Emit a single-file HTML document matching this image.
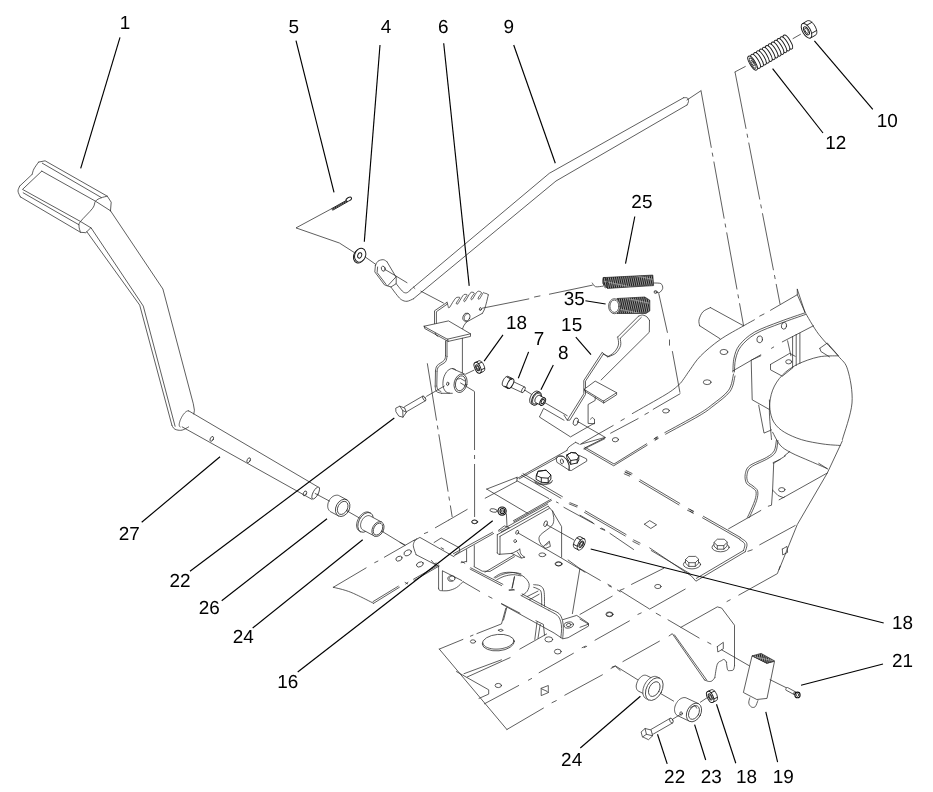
<!DOCTYPE html>
<html><head><meta charset="utf-8"><title>Parts diagram</title>
<style>
html,body{margin:0;padding:0;background:#fff}
svg{display:block}
.t{fill:none;stroke:#2a2a2a;stroke-width:0.75;stroke-linecap:round;stroke-linejoin:round}
.w{fill:#fff}
.b{stroke-width:0.95;stroke:#1a1a1a}
.k{fill:none;stroke:#111;stroke-width:1.1;stroke-linecap:round;stroke-linejoin:round}
.l{fill:none;stroke:#000;stroke-width:1.15;stroke-linecap:butt}
.d{fill:none;stroke:#2a2a2a;stroke-width:0.75;stroke-dasharray:58 5 4 5}
.g{fill:url(#coil);stroke:#222;stroke-width:0.7}
text{text-rendering:geometricPrecision;font-family:"Liberation Sans",Arial,Helvetica,sans-serif;font-size:18.9px;fill:#000}
</style></head><body>
<svg width="933" height="792" viewBox="0 0 933 792">
<rect width="933" height="792" fill="#fff"/>
<g>
<path class="t" d="M38.6 162.1 L45.1 160.8 L107.3 196.2 L111.2 202.2 L110.5 210.8"/>
<path class="t" d="M42.3 163.2 L101.3 197.5"/>
<path class="t" d="M38.6 162.1 C37.8 163.2 35 166.9 33.9 169 C32.8 171 32.5 173.4 32.2 174.3"/>
<path class="t" d="M32.2 174.3 L19.7 186.1"/>
<path class="t" d="M19.7 186.1 C19.5 187 17.9 189.3 18 191.1 C18.1 192.9 20 195.9 20.4 196.9"/>
<path class="t" d="M20.4 196.9 L80.5 232.3 L85.8 232.7 L90.6 228"/>
<path class="t" d="M41.8 171.1 L95.5 201.2 L110.5 210.8"/>
<path class="t" d="M41.8 171.1 L22.5 189.4 L79.8 221.1"/>
<path class="t" d="M23.2 192.8 L79 224.8"/>
<path class="t" d="M107.3 196.2 C106.2 196.5 102.8 197.1 100.9 197.9 C98.9 198.8 96.9 199.4 95.5 201.2 C94.1 202.9 95.2 204.8 92.7 208.2 C90.2 211.6 82.8 218.5 80.5 221.5 C78.2 224.5 79 224.5 79 226.3 C79 228.1 80.2 231.3 80.5 232.3"/>
<path class="t" d="M80.5 221.5 L91.2 228"/>
<path class="t" d="M110.5 210.8 L162.9 289 L193.3 403.8 L194.4 410.2 L193.8 414"/>
<path class="t" d="M86.9 231.8 L139.7 305.1 L171.9 425.2"/>
<path class="t" d="M91.2 228 L143.3 306.1 L175.1 426.3"/>
<path class="t" d="M171.9 425.2 C172.2 425.7 172.8 427.4 173.6 428.2 C174.4 429 175.4 429.6 176.8 429.9 C178.3 430.2 180.2 430.6 182.2 430.1 C184.2 429.6 187.6 427.4 188.6 426.9"/>
<path class="t" d="M188.6 410.8 L317.4 486.6"/>
<path class="t" d="M182.2 426.9 L312 499.4"/>
<path class="t" d="M180.1 426.9 L179.8 426.7 L179.5 426.3 L179.3 425.7 L179.2 425.1 L179.2 424.4 L179.3 423.5 L179.5 422.6 L179.8 421.6 L180.1 420.6 L180.5 419.6 L181 418.5 L181.5 417.5 L182.1 416.4 L182.7 415.5 L183.3 414.5 L184 413.7 L184.7 412.9 L185.3 412.3 L186 411.7 L186.6 411.3 L187.2 411 L187.7 410.9 L188.2 410.9 L188.6 411"/>
<ellipse class="t" cx="315.7" cy="493" rx="2.6" ry="6.7" transform="rotate(28 315.7 493)"/>
<ellipse class="t" cx="211.8" cy="438.9" rx="1.5" ry="2.6" transform="rotate(28 211.8 438.9)"/>
<ellipse class="t" cx="248.7" cy="460.2" rx="1.5" ry="2.6" transform="rotate(28 248.7 460.2)"/>
<ellipse class="t" cx="304.9" cy="493.4" rx="1.5" ry="2.6" transform="rotate(28 304.9 493.4)"/>
<path class="t" d="M315.2 493.5 L329.5 501.1"/>
<path class="t" d="M338.5 515.9 L330.7 511.8 L330 511.3 L329.4 510.7 L328.8 510 L328.4 509.2 L328 508.3 L327.8 507.3 L327.7 506.2 L327.8 505.1 L327.9 504 L328.2 502.8 L328.6 501.7 L329.1 500.7 L329.7 499.6 L330.4 498.7 L331.2 497.8 L332 497.1 L332.9 496.4 L333.9 495.9 L334.8 495.5 L335.8 495.3 L336.7 495.2 L337.6 495.2 L338.5 495.4 L339.3 495.8 L347 499.9"/>
<ellipse class="t" cx="342.7" cy="507.9" rx="6.7" ry="9.1" transform="rotate(28 342.7 507.9)"/>
<ellipse class="t" cx="342.7" cy="507.9" rx="4.8" ry="7" transform="rotate(28 342.7 507.9)"/>
<path class="t" d="M347 510.9 L359.8 518.2"/>
<path class="t" d="M360.6 531.8 L359.4 531.2 L358.7 530.7 L358 530 L357.5 529.2 L357.1 528.3 L356.8 527.3 L356.6 526.2 L356.6 525 L356.7 523.7 L356.9 522.4 L357.3 521.2 L357.8 519.9 L358.4 518.6 L359.1 517.4 L359.9 516.3 L360.7 515.3 L361.7 514.4 L362.6 513.6 L363.7 512.9 L364.7 512.4 L365.7 512.1 L366.7 511.9 L367.6 511.9 L368.5 512.1 L369.4 512.5 L370.6 513.1"/>
<ellipse class="t" cx="365.6" cy="522.4" rx="6.8" ry="10.6" transform="rotate(28 365.6 522.4)"/>
<path class="t w" d="M374.3 536 L363 530 L362.4 529.6 L361.8 529.1 L361.4 528.5 L361.1 527.8 L360.8 527 L360.6 526.1 L360.6 525.2 L360.6 524.3 L360.8 523.3 L361.1 522.4 L361.4 521.4 L361.9 520.5 L362.4 519.6 L363 518.8 L363.6 518 L364.3 517.3 L365.1 516.8 L365.9 516.3 L366.7 516 L367.5 515.7 L368.2 515.6 L369 515.6 L369.7 515.8 L370.4 516.1 L381.7 522.1"/>
<ellipse class="t w" cx="378" cy="529.1" rx="5.5" ry="7.9" transform="rotate(28 378 529.1)"/>
<ellipse class="t" cx="378" cy="529.1" rx="4.2" ry="6.4" transform="rotate(28 378 529.1)"/>
<path class="t" d="M383.3 532.1 L404.5 545"/>
<path class="t b" d="M331.8 208.6 L346.2 200.5"/>
<path class="t b" d="M332.9 210.1 L347.5 201.8"/>
<path class="t b" d="M332.3 209.3 L346.9 201.1"/>
<ellipse class="t w b" cx="348.8" cy="199.2" rx="3" ry="1.7" transform="rotate(-30 348.8 199.2)"/>
<path class="t" d="M331.8 208.6 L296 227.9 L339.4 243 L354.4 252.6"/>
<ellipse class="t w b" cx="359.1" cy="256.1" rx="5.4" ry="7.1" transform="rotate(20 359.1 256.1)"/>
<ellipse class="t w b" cx="360.2" cy="255.2" rx="5.4" ry="7.1" transform="rotate(20 360.2 255.2)"/>
<ellipse class="t w b" cx="359.7" cy="255.4" rx="1.9" ry="2.8" transform="rotate(20 359.7 255.4)"/>
<path class="t" d="M365.1 256.9 L375.8 264.4"/>
<path class="t" d="M375.4 265.5 C375.8 264.8 376.7 262.2 378 261.2 C379.3 260.2 381.8 259.6 383.3 259.7 C384.8 259.8 386.4 261.5 387 261.8"/>
<path class="t" d="M387 261.8 L396.2 277.3 L396.2 283.7 L390.9 287 L384.4 284.8 L374.8 271.9 L375.4 265.5"/>
<path class="t" d="M377.6 267 L377.1 272.6 L386.1 284.4"/>
<ellipse class="t" cx="383.3" cy="268.7" rx="1.9" ry="2.6" transform="rotate(-20 383.3 268.7)"/>
<path class="t" d="M384.4 269.1 L407 282.7"/>
<path class="t" d="M387.6 285.9 L396.2 276.7"/>
<path class="t" d="M390.9 287 C391.9 288.4 395.5 293.4 397.3 295.5 C399.1 297.7 400 298.9 401.6 299.8 C403.2 300.8 405 301.5 407 301.3 C408.9 301.2 412.3 299.2 413.4 298.8"/>
<path class="t" d="M396.2 283.7 C396.9 284.6 399.3 287.7 400.5 289.1 C401.8 290.5 402.7 291.7 403.7 292.3 C404.8 292.9 405.9 293.1 407 292.7 C408 292.4 409.6 290.6 410.2 290.2"/>
<path class="t" d="M420.9 291.2 L443.4 303"/>
<path class="t" d="M413.4 287 L414.9 288.5"/>
<path class="t" d="M410 290.2 L549.3 173.3 L683.7 97.7"/>
<path class="t" d="M413.4 298.8 L556 181 L687 105"/>
<path class="t" d="M683.7 97.7 C684.3 97.8 686.7 97.4 687.5 98 C688.3 98.6 688.6 100.3 688.5 101.5 C688.4 102.7 687.2 104.4 687 105"/>
<path class="t" d="M687 100 L701 90.7"/>
<path class="d" d="M701 90.7 L743.6 325.8"/>
<path class="t" d="M745.3 66.5 L735 71.9"/>
<path class="d" d="M735 71.9 L780.1 304.3"/>
<path class="t" d="M434.5 323.6 L434.5 310.8 L447 302.3"/>
<path class="t" d="M436.4 323.3 L436.4 311.7 L447.6 303.9"/>
<path class="t" d="M447 302.3 C447.1 302.6 447.4 303.6 447.6 304.3 C447.8 305 448 306 448.2 306.5 C448.3 307.1 448.2 307.5 448.5 307.7 C448.7 307.8 449.1 308 449.6 307.4 C450.1 306.8 450.9 305.2 451.6 304.2 C452.2 303.1 452.7 302.1 453.5 301.1 C454.3 300 455.2 298.3 456.2 297.7 C457.3 297.1 459.5 297.1 459.8 297.5 C460.1 297.9 458.5 299.5 458 300.4 C457.4 301.3 456.7 302.3 456.4 303 C456.2 303.6 456.4 303.9 456.7 304.1 C456.9 304.2 457.3 304.4 457.8 303.9 C458.3 303.3 459.1 301.7 459.8 300.6 C460.4 299.5 461 298.5 461.7 297.5 C462.4 296.5 463 295.1 463.9 294.6 C464.8 294.2 466.9 294.3 467.1 294.8 C467.3 295.4 465.9 296.8 465.3 297.7 C464.7 298.6 464 299.7 463.8 300.3 C463.6 300.9 463.8 301.3 464 301.4 C464.2 301.6 464.6 301.8 465.2 301.2 C465.7 300.6 466.5 299 467.1 298 C467.8 296.9 468.3 295.8 469 294.8 C469.7 293.9 470.3 292.7 471.2 292.3 C472.1 292 474.1 292.4 474.3 293 C474.5 293.5 473.1 294.9 472.5 295.8 C471.9 296.7 471.2 297.8 471 298.4 C470.8 299 471 299.4 471.2 299.5 C471.4 299.7 471.8 299.9 472.3 299.3 C472.9 298.7 473.7 297.1 474.3 296.1 C475 295 475.5 293.8 476.2 293 C476.9 292.1 477.5 291.3 478.4 291.2 C479.3 291.1 481.3 291.9 481.5 292.6 C481.7 293.3 480.3 294.5 479.7 295.5 C479.1 296.4 478.4 297.4 478.2 298 C478 298.6 478.2 299 478.4 299.2 C478.6 299.3 479 299.5 479.5 298.9 C480.1 298.4 480.9 296.7 481.5 295.7 C482.2 294.6 482.9 293 483.4 292.6 C483.9 292.2 484.1 293 484.7 293.2 C485.3 293.4 486.2 293.4 486.8 293.7 C487.4 294 488.1 294.7 488.3 294.8"/>
<path class="t" d="M488.3 294.8 C488 296.4 486.8 301.4 486.1 303.9 C485.4 306.5 484.8 308.4 484.2 310 C483.5 311.6 482.6 312.8 482.3 313.4"/>
<path class="t" d="M482.3 313.4 L466.4 322.1"/>
<path class="t" d="M466.4 322.1 C465.9 322.8 464.3 324.8 463.7 325.9 C463.1 327 462.8 328.4 462.6 328.9"/>
<ellipse class="t" cx="480.4" cy="309.1" rx="1" ry="1.5" transform="rotate(15 480.4 309.1)"/>
<ellipse class="t w" cx="466.4" cy="317.2" rx="3.4" ry="4.2" transform="rotate(20 466.4 317.2)"/>
<path class="t" d="M467 321.1 L466.6 321.1 L466.2 321 L465.8 320.9 L465.5 320.7 L465.1 320.4 L464.9 320.1 L464.6 319.8 L464.5 319.3 L464.4 318.9 L464.3 318.4 L464.3 317.9 L464.3 317.4 L464.4 316.9 L464.6 316.4 L464.8 315.9 L465.1 315.5 L465.4 315 L465.7 314.7 L466.1 314.4 L466.4 314.1 L466.8 313.9 L467.3 313.8 L467.7 313.7 L468.1 313.7"/>
<path class="t" d="M482.3 308.2 L528.8 298.9"/>
<path class="t" d="M534.5 297 L540 295.9"/>
<path class="t" d="M549.4 294.2 L592.3 285.2"/>
<path class="t w" d="M424.2 326.2 L448.5 320.9 L470.5 333.8 L447.7 339.1Z"/>
<path class="t" d="M424.2 326.2 L424.7 328.5 L448.2 341.4 L470.5 336.4 L470.5 333.8"/>
<path class="t" d="M447.7 339.1 L448.2 341.4"/>
<path class="t" d="M435.2 333 L435.8 334.8 L437.9 336.4"/>
<path class="t" d="M445.5 340.9 L445.5 355.8"/>
<path class="t" d="M445.5 355.8 C445.3 356.5 445.6 358.7 444.2 360.3 C442.9 361.9 438.6 363.8 437.1 365.6 C435.7 367.4 435.7 370 435.5 370.9"/>
<path class="t" d="M435.5 370.9 L435.2 386.1"/>
<path class="t" d="M435.2 386.1 C435.4 386.9 435.3 390.2 436.4 391.4 C437.4 392.6 440.8 393 441.7 393.3"/>
<path class="t" d="M441.7 393.3 L452.3 393.3"/>
<path class="t" d="M447 340.9 L447 356.5"/>
<path class="t" d="M447 356.5 C446.7 357.4 446.8 360.1 445.5 361.8 C444.1 363.5 440 365.1 438.6 366.7 C437.2 368.2 437.4 370.5 437.1 371.2"/>
<path class="t" d="M437.1 371.2 L436.8 386.1"/>
<path class="t" d="M436.8 386.1 C437 386.7 437.2 389 437.9 389.8 C438.6 390.7 440.4 391.1 440.9 391.4"/>
<path class="t" d="M462.4 338.3 L462.4 372.7"/>
<path class="t" d="M449.5 393 L448.3 392.9 L447.2 392.6 L446.2 392 L445.3 391.1 L444.5 390 L443.8 388.7 L443.4 387.1 L443 385.5 L442.9 383.7 L443 381.9 L443.2 380 L443.6 378.1 L444.2 376.3 L444.9 374.7 L445.8 373.1 L446.7 371.7 L447.8 370.6 L449 369.7 L450.1 369 L451.3 368.6 L452.5 368.5 L453.7 368.7 L454.7 369.1 L455.7 369.9"/>
<path class="t" d="M452.3 368.6 L464.4 373.9"/>
<ellipse class="t w" cx="460.6" cy="383.3" rx="6.4" ry="9.4" transform="rotate(14 460.6 383.3)"/>
<ellipse class="t" cx="460.6" cy="383.3" rx="5" ry="7.6" transform="rotate(14 460.6 383.3)"/>
<path class="t" d="M456.8 379.2 L460.6 378.5 L465.2 381.2"/>
<ellipse class="t" cx="447.7" cy="383.8" rx="1.1" ry="1.8" transform="rotate(12 447.7 383.8)"/>
<path class="t" d="M465.5 374.2 L473.9 370.2"/>
<path class="t w" d="M475.1 362.6 L478.7 360.9 L479.1 360.8 L479.5 360.7 L479.9 360.8 L480.3 361 L480.8 361.2 L481.2 361.6 L481.7 362 L482.1 362.5 L482.6 363 L483 363.6 L483.4 364.3 L483.7 365 L484 365.7 L484.3 366.4 L484.5 367.1 L484.6 367.8 L484.7 368.4 L484.7 369 L484.7 369.6 L484.6 370.1 L484.4 370.6 L484.2 370.9 L483.9 371.2 L483.6 371.4 L480 373.1" style="stroke-width:0.95;stroke:#1a1a1a"/>
<ellipse class="t w" style="stroke-width:0.95;stroke:#1a1a1a" cx="477.6" cy="367.8" rx="2.8" ry="5.8" transform="rotate(155 477.6 367.8)"/>
<ellipse class="t" style="stroke-width:0.95;stroke:#1a1a1a" cx="477.6" cy="367.8" rx="1.5" ry="3.2" transform="rotate(155 477.6 367.8)"/>
<ellipse class="t" cx="477.6" cy="367.8" rx="0.9" ry="2.1" transform="rotate(155 477.6 367.8)"/>
<path class="t" d="M484.7 368.2 L481 369.9" style="stroke-width:0.95;stroke:#1a1a1a"/>
<path class="t" d="M481.8 362.2 L478.2 363.8" style="stroke-width:0.95;stroke:#1a1a1a"/>
<path class="d" d="M474.5 392 L474.6 517"/>
<ellipse class="t" cx="474.7" cy="521.8" rx="3" ry="1.8" transform="rotate(0 474.7 521.8)"/>
<path class="d" d="M427.3 363.3 L452.2 517"/>
<path class="t" d="M460.6 383 L474.4 391.4"/>
<path class="t w" d="M425.5 400.7 L407.1 411.4 L406.9 411.5 L406.8 411.5 L406.6 411.5 L406.4 411.4 L406.2 411.3 L406 411.1 L405.8 411 L405.6 410.7 L405.4 410.5 L405.2 410.2 L405 410 L404.8 409.7 L404.6 409.3 L404.5 409 L404.4 408.7 L404.2 408.4 L404.2 408.1 L404.1 407.9 L404.1 407.6 L404.1 407.4 L404.1 407.2 L404.2 407 L404.3 406.9 L404.4 406.8 L422.8 396.1"/>
<ellipse class="t w" cx="424.2" cy="398.4" rx="1.1" ry="2.7" transform="rotate(-30 424.2 398.4)"/>
<path class="t w" d="M396.1 408 L399.8 406.2 L404.7 408 L406.3 412.3 L403 417.2 L398.8 416.1 L396.1 412Z"/>
<path class="t" d="M399.8 406.2 L402.7 410.5 L403 417.2"/>
<path class="t" d="M402.7 410.5 L406.3 412.3"/>
<path class="t" d="M426.6 396.3 L444.3 386.1"/>
<defs><pattern id="coil" width="1.9" height="12" patternUnits="userSpaceOnUse" patternTransform="rotate(12)"><rect width="1.9" height="12" fill="#9a9a9a"/><rect width="1.0" height="12" fill="#1c1c1c"/><rect x="0" y="5" width="1.9" height="1.2" fill="#c8c8c8" opacity="0.55"/></pattern></defs>
<path class="g" d="M603 277.6 L652.8 275.1 L653.6 285.6 L607.3 288.4 L603 283.4Z"/>
<ellipse class="t" cx="605.2" cy="282.6" rx="2.1" ry="5.2" transform="rotate(-5 605.2 282.6)"/>
<path class="t" d="M602.6 286.2 C601.4 286.3 597.2 287.2 595.5 286.7 C593.8 286.1 592.8 283.6 592.3 283"/>
<path class="t" d="M653.6 283 C654.9 283.1 659.4 282.8 660.9 283.6 C662.4 284.5 662.9 286.9 662.7 288.4 C662.4 289.9 660.5 292.1 659.2 292.7 C657.9 293.2 655.7 291.8 654.9 291.6"/>
<ellipse class="t" cx="655.6" cy="292" rx="1.5" ry="1.5" transform="rotate(0 655.6 292)"/>
<path class="t" d="M658.8 293.7 L667.4 332.4"/>
<path class="t" d="M669.5 339.9 L669.5 345.2"/>
<path class="g" d="M617 298.5 L644.8 297 L649.8 300.2 L649.8 310.9 L645.9 313.5 L617 313.5Z"/>
<ellipse class="t w" cx="614.4" cy="306.2" rx="5.8" ry="7.5" transform="rotate(0 614.4 306.2)"/>
<ellipse class="t" cx="614.4" cy="306.2" rx="4.5" ry="6.2" transform="rotate(0 614.4 306.2)"/>
<path class="t" d="M672.4 351.5 L679.9 392.3"/>
<path class="t w" d="M522 392.5 L510.5 387.2 L510.4 387.1 L510.2 386.9 L510.2 386.7 L510.1 386.5 L510.1 386.2 L510.1 385.9 L510.1 385.6 L510.2 385.2 L510.3 384.9 L510.4 384.5 L510.6 384.1 L510.7 383.8 L510.9 383.4 L511.2 383.1 L511.4 382.8 L511.6 382.5 L511.9 382.2 L512.1 382 L512.4 381.9 L512.6 381.7 L512.8 381.7 L513.1 381.6 L513.3 381.6 L513.4 381.7 L524.9 387.1"/>
<ellipse class="t w" cx="523.4" cy="389.8" rx="1.4" ry="3.1" transform="rotate(28 523.4 389.8)"/>
<path class="t w b" d="M507.8 388.3 L503.1 386 L502.9 385.8 L502.6 385.5 L502.5 385.1 L502.3 384.7 L502.3 384.2 L502.3 383.7 L502.3 383.1 L502.4 382.5 L502.6 381.9 L502.8 381.3 L503.1 380.6 L503.4 380 L503.7 379.4 L504.1 378.8 L504.5 378.3 L504.9 377.8 L505.4 377.4 L505.8 377 L506.3 376.7 L506.7 376.5 L507.1 376.4 L507.5 376.3 L507.8 376.4 L508.2 376.5 L512.9 378.8"/>
<ellipse class="t w b" cx="510.4" cy="383.6" rx="2.6" ry="5.4" transform="rotate(28 510.4 383.6)"/>
<path class="t b" d="M507.1 377.1 L512 379.5"/>
<path class="t b" d="M505 386.3 L509.5 388.5"/>
<path class="t" d="M525.4 390.5 L532.3 394.8"/>
<path class="t w b" d="M533.2 404.8 L531.3 403.9 L530.8 403.6 L530.4 403.2 L530.1 402.7 L529.9 402.1 L529.8 401.4 L529.7 400.7 L529.7 399.9 L529.8 399.1 L530 398.2 L530.3 397.4 L530.6 396.5 L531 395.7 L531.5 394.9 L532 394.2 L532.5 393.5 L533.1 392.8 L533.8 392.3 L534.4 391.9 L535 391.5 L535.7 391.3 L536.3 391.1 L536.9 391.1 L537.4 391.2 L537.9 391.4 L539.8 392.3"/>
<ellipse class="t w b" cx="536.5" cy="398.6" rx="4.1" ry="7.1" transform="rotate(28 536.5 398.6)"/>
<ellipse class="t" cx="536.5" cy="398.6" rx="3.2" ry="5.9" transform="rotate(28 536.5 398.6)"/>
<path class="t w b" d="M540.8 405.2 L535.8 402.7 L535.5 402.5 L535.3 402.3 L535.1 402 L535 401.7 L534.9 401.3 L534.9 400.9 L534.9 400.4 L534.9 400 L535 399.5 L535.2 399 L535.4 398.5 L535.6 398 L535.9 397.6 L536.2 397.1 L536.5 396.7 L536.8 396.4 L537.2 396.1 L537.6 395.8 L537.9 395.6 L538.3 395.5 L538.7 395.4 L539 395.4 L539.3 395.4 L539.6 395.5 L544.6 398"/>
<ellipse class="t w b" cx="542.7" cy="401.6" rx="2.4" ry="4.1" transform="rotate(28 542.7 401.6)"/>
<ellipse class="t w b" cx="542.7" cy="401.6" rx="1.3" ry="2.4" transform="rotate(28 542.7 401.6)"/>
<path class="t" d="M545.2 402.9 L567.2 415.7"/>
<path class="t" d="M564 420.2 L543.6 408.4 L539.4 417 L570.5 436.9 L594.7 423"/>
<path class="t" d="M638.6 316.1 L617.7 337"/>
<path class="t" d="M641.3 317.4 L620.2 338.4"/>
<path class="t" d="M638.6 316.1 C639.3 315.9 641.5 314.8 642.9 315 C644.3 315.2 646.1 316.2 647.2 317.1 C648.3 318.1 649.1 320 649.5 320.6"/>
<path class="t" d="M649.5 320.6 L649.3 332.2 L601.1 380"/>
<path class="t" d="M617.7 337 C617.8 338.3 619.1 342.4 618.4 345 C617.8 347.6 615.8 350.6 613.9 352.5 C612.1 354.5 608.6 356.1 607.5 356.8"/>
<path class="t" d="M620.2 338.4 C620.2 339.6 621.3 343.1 620.6 345.6 C619.9 348 617.8 351.2 615.9 353.1 C613.9 354.9 610 356 608.8 356.6"/>
<path class="t" d="M607.5 356.8 L602.2 352.5"/>
<path class="t" d="M608.8 356.6 L603.4 354.2"/>
<path class="t" d="M602 352.6 L583.8 380.5 L583.8 393.8 L567.3 420.2 L564 415.2"/>
<path class="t" d="M603.3 354.1 L585.5 381.1 L585.5 394.4 L569.8 420.2 L567.3 420.2"/>
<path class="t w" d="M584.4 389.1 L595.2 381.1 L616.6 392.7 L603.7 400.9Z"/>
<path class="t" d="M584.4 389.1 L584.8 391.2 L603.7 403 L616.6 394.8 L616.6 392.7"/>
<path class="t" d="M603.7 400.9 L603.7 403"/>
<path class="t" d="M595.2 397 L595.2 400.4 L588.1 404.5 L588.1 423.4 L594.5 423.8 L594.5 419.7"/>
<path class="t" d="M594.5 419.7 C594.2 419.4 593.3 417.7 592.6 417.6 C591.9 417.5 590.8 419 590.4 419.3"/>
<ellipse class="t" cx="575.8" cy="421.7" rx="2.4" ry="3.9" transform="rotate(20 575.8 421.7)"/>
<path class="t" d="M581.5 443.5 L613.2 425.5"/>
<path class="t" d="M620.9 420.7 L624.3 418.8"/>
<path class="t" d="M610.6 433.2 L638.1 418.6"/>
<path class="t" d="M644.9 414.5 L648.4 412.6"/>
<ellipse class="t" cx="666" cy="410.9" rx="3.4" ry="2.1" transform="rotate(-5 666 410.9)"/>
<ellipse class="t" cx="615.4" cy="439.7" rx="3.1" ry="2.1" transform="rotate(-5 615.4 439.7)"/>
<path class="t" d="M577.2 421.2 L605.5 437.5 L584.9 447.8"/>
<path class="t" d="M604.8 438.7 L584 449"/>
<path class="t" d="M584.9 447.2 L614 464 L646.6 443.8"/>
<path class="t" d="M584 448.6 L613.7 465.8 L647.2 445.2"/>
<path class="t" d="M625.2 471.8 L631.2 474.7"/>
<path class="t" d="M626.1 470.6 L632.1 473.5"/>
<path class="t" d="M655.2 439.5 L657.8 437.8"/>
<path class="t" d="M654.5 438.5 L657.1 436.8"/>
<path class="t" d="M517 478.6 L567 450.4"/>
<path class="t" d="M567 450.4 C567.3 449.8 567.4 448.5 568.8 447.1 C570.2 445.8 574.4 443.1 575.6 442.3"/>
<path class="t" d="M575.6 442.3 L578.8 443.9"/>
<path class="t" d="M519.3 478.8 L556.8 458.1"/>
<path class="t w" d="M569.1 470.2 L571.3 470.5 L586.8 461.1 L586.6 458.9 L578.8 455.2 L567.5 461.1Z"/>
<path class="t w" d="M556.3 458.4 L556.8 462.2 L569.1 470.2 L569.1 465.4 L567 460 L563.2 456.5 L558.9 456.3Z"/>
<path class="t" d="M556.3 458.4 C556.7 458 557.8 456.4 558.9 456 C560.1 455.7 561.9 455.6 563.2 456.3 C564.6 456.9 566 458.5 567 460 C568 461.5 568.8 463.7 569.1 465.4 C569.5 467.1 569.1 469.4 569.1 470.2"/>
<ellipse class="t" cx="561.9" cy="461.4" rx="1.5" ry="2.4" transform="rotate(-10 561.9 461.4)"/>
<path class="t w b" d="M567 454.9 L571.3 452.5 L576.1 453 L578.8 456.3 L578.8 459.8 L577.2 463 L570.7 464.3 L567 458.1Z"/>
<path class="t b" d="M567 454.9 L571.3 452.5 L576.1 453 L578.8 456.3 L577.2 459.5 L570.7 460.5 L567 454.9"/>
<path class="t b" d="M570.7 460.5 L570.7 464.3"/>
<path class="t b" d="M577.2 459.5 L577.2 463"/>
<path class="t w b" d="M536.4 475.6 L538 471.3 L546.1 470.2 L550.9 475 L550.9 479.1 L548.2 482.7 L541.3 482.3 L536.4 479.5Z"/>
<path class="t b" d="M536.4 475.6 L538 471.3 L546.1 470.2 L550.9 475 L548.2 478.2 L541.3 477.7 L536.4 475.6"/>
<path class="t b" d="M541.3 477.7 L541.3 482.3"/>
<path class="t b" d="M548.2 478.2 L548.2 482.7"/>
<path class="t" d="M552.4 480.5 L552.1 481 L551.8 481.5 L551.3 481.9 L550.7 482.3 L550 482.6 L549.3 483 L548.4 483.2 L547.5 483.5 L546.5 483.7 L545.5 483.8 L544.5 483.9 L543.4 483.9 L542.3 483.9 L541.3 483.8 L540.3 483.7 L539.3 483.5 L538.4 483.2 L537.5 483 L536.8 482.6 L536.1 482.3 L535.5 481.9 L535 481.5 L534.7 481 L534.4 480.5"/>
<path class="t" d="M552 482 L551.6 482.4 L551.2 482.7 L550.6 483.1 L550 483.4 L549.4 483.7 L548.6 483.9 L547.8 484.1 L547 484.3 L546.1 484.5 L545.2 484.6 L544.3 484.6 L543.4 484.7 L542.5 484.6 L541.6 484.6 L540.7 484.5 L539.8 484.3 L539 484.1 L538.2 483.9 L537.4 483.7 L536.8 483.4 L536.2 483.1 L535.6 482.7 L535.2 482.4 L534.8 482"/>
<path class="t" d="M632.3 413.6 C637.9 410.4 658.4 399 666.1 394.3 C673.8 389.6 675.4 387.8 678.4 385.2 C681.4 382.6 682.1 381.1 684 378.5 C685.9 375.9 687.2 373.6 690 369.8 C692.8 366 695.7 360.8 700.7 355.8 C705.7 350.8 712.9 344.7 720 339.7 C727.1 334.7 737.9 329.1 743.6 325.8 C749.3 322.5 752.6 320.8 754.4 319.8"/>
<path class="t" d="M759.7 316.1 L764 314"/>
<path class="t" d="M770.5 310.3 L797.3 294.7"/>
<path class="t" d="M653.2 409.3 L680 393.8"/>
<path class="t" d="M804.8 312.9 C800.7 314.3 788.5 318.3 780.1 321.5 C771.7 324.7 761.2 328.3 754.4 332.2 C747.6 336.1 742.8 340.8 739.4 345.1 C736 349.4 735.1 353.5 734 358 C732.9 362.5 733.1 369.7 732.9 372"/>
<path class="t" d="M733.5 374 C732.7 376.7 732.2 385.1 728.6 390.2 C725 395.3 717.1 400.7 712 404.7 C706.9 408.7 705.9 409.6 698 414.3 C690.1 419 670.3 429.6 664.8 432.6"/>
<path class="t" d="M805.5 314.5 C801.4 315.9 789.3 320 781 323.2 C772.7 326.4 762.3 329.9 755.6 333.8 C748.9 337.7 744.3 342.2 741 346.4 C737.7 350.6 736.7 354.7 735.6 359 C734.5 363.3 734.6 369.8 734.4 372"/>
<path class="t" d="M735 376 C734.2 378.6 733.7 386.5 730 391.5 C726.3 396.5 718.2 402.1 713 406.2 C707.8 410.3 706.9 411.2 699 415.9 C691.1 420.6 671.2 431.1 665.6 434.2"/>
<path class="t" d="M486.7 489.1 L517 477.3"/>
<path class="t" d="M486.7 489.1 L527.6 513.3"/>
<path class="t" d="M485.2 498.2 L517 481.2 L517 477.3"/>
<path class="t" d="M517 480.8 L548.8 498.5"/>
<path class="t" d="M523 473.6 L562.4 496.7"/>
<path class="t" d="M521.5 475.2 L560.9 498.2"/>
<path class="t" d="M556.4 502 L558.2 502.9"/>
<path class="t" d="M570 502.7 L577.6 505.8"/>
<path class="t" d="M569.2 503.9 L576.8 507"/>
<path class="t" d="M563.9 507.3 L594.2 523.9"/>
<path class="t" d="M600.3 528.5 L604.8 530.3"/>
<path class="t" d="M497.3 534.7 L548.2 506.3"/>
<path class="t" d="M500 536.3 L549.3 508.4"/>
<path class="t" d="M498.9 531.4 L547.7 504.1"/>
<path class="t" d="M497.3 534.7 L497.3 552.9"/>
<path class="t" d="M500 536.3 L500 553.9"/>
<path class="t" d="M497.3 552.9 C497.4 553.1 497.5 553.7 497.9 553.9 C498.2 554.2 499.2 554.2 499.5 554.3"/>
<path class="t" d="M499.5 554.3 L511.8 553.4"/>
<path class="t" d="M511.8 553.4 C512.5 553.1 514.7 552 516.1 551.3 C517.4 550.6 519.2 549.5 519.8 549.1"/>
<path class="t" d="M519.8 549.1 C520 549.9 520.1 552.6 520.9 553.9 C521.7 555.3 524 556.6 524.7 557.2"/>
<path class="t" d="M524.7 557.2 L521.4 558.2 L516.1 555.6 L511.8 553.4"/>
<path class="t" d="M517.2 551.8 L521.4 557.7"/>
<path class="t" d="M548.2 506.3 L552.5 511.1"/>
<path class="t" d="M552.5 511.1 C552.7 512.5 554 517.2 553.8 519.7 C553.6 522.2 553.6 523.6 551.5 526.1 C549.3 528.6 542.8 532.3 540.7 534.7 C538.7 537 538.9 538.2 539.1 540 C539.3 541.8 540.8 544.1 541.8 545.4 C542.8 546.6 544.5 547.2 545 547.5"/>
<path class="t" d="M543.4 546.4 L549.3 541.1 L550.4 546.4 L545 548.6"/>
<path class="t" d="M546.1 545.4 L548.8 542.7"/>
<path class="t" d="M552.5 511.1 L561.6 526.6 L561.6 557.2"/>
<ellipse class="t" cx="545.6" cy="523.7" rx="1.6" ry="3" transform="rotate(20 545.6 523.7)"/>
<ellipse class="t" cx="517.2" cy="532.3" rx="1.3" ry="2.1" transform="rotate(20 517.2 532.3)"/>
<ellipse class="t" cx="515.2" cy="541.1" rx="1.3" ry="1.5" transform="rotate(20 515.2 541.1)"/>
<path class="t" d="M518.2 533 L560 557.2 L585 572.2"/>
<path class="t" d="M547.2 525 L574 540"/>
<path class="t w" d="M578.2 549.8 L574.4 547.8 L574.1 547.6 L573.8 547.3 L573.6 546.9 L573.5 546.4 L573.4 545.8 L573.4 545.2 L573.4 544.5 L573.6 543.8 L573.8 543.1 L574 542.3 L574.3 541.6 L574.7 540.9 L575.1 540.2 L575.5 539.5 L576 538.9 L576.5 538.3 L577 537.8 L577.5 537.4 L578.1 537 L578.6 536.8 L579 536.6 L579.5 536.6 L579.9 536.6 L580.3 536.7 L584.1 538.8" style="stroke-width:0.95;stroke:#1a1a1a"/>
<ellipse class="t w" style="stroke-width:0.95;stroke:#1a1a1a" cx="581.2" cy="544.3" rx="3" ry="6.3" transform="rotate(28 581.2 544.3)"/>
<ellipse class="t" style="stroke-width:0.95;stroke:#1a1a1a" cx="581.2" cy="544.3" rx="1.7" ry="3.5" transform="rotate(28 581.2 544.3)"/>
<ellipse class="t" cx="581.2" cy="544.3" rx="1" ry="2.3" transform="rotate(28 581.2 544.3)"/>
<path class="t" d="M576.9 537.9 L580.7 540" style="stroke-width:0.95;stroke:#1a1a1a"/>
<path class="t" d="M573.5 544.3 L577.3 546.3" style="stroke-width:0.95;stroke:#1a1a1a"/>
<ellipse class="t" cx="542.3" cy="554.8" rx="3.4" ry="1.9" transform="rotate(0 542.3 554.8)"/>
<ellipse class="t" cx="558.4" cy="563.9" rx="3.4" ry="1.9" transform="rotate(0 558.4 563.9)"/>
<path class="t" d="M485 572.2 L513.9 555"/>
<ellipse class="k" cx="502.1" cy="511.1" rx="4.1" ry="4.1" transform="rotate(0 502.1 511.1)"/>
<ellipse class="k" cx="502.4" cy="511.1" rx="2.4" ry="2.6" transform="rotate(0 502.4 511.1)"/>
<ellipse class="t" cx="502.4" cy="511.1" rx="1.1" ry="1.1" transform="rotate(0 502.4 511.1)"/>
<ellipse class="t" cx="493.6" cy="510.5" rx="3.8" ry="1.7" transform="rotate(10 493.6 510.5)"/>
<path class="t" d="M506.4 513.8 L507 526.6"/>
<path class="t" d="M498.4 530.4 L504.3 525.9 L509.4 527.7 L501.1 532"/>
<path class="t" d="M513.4 520.7 L550.9 499.3"/>
<path class="t" d="M513.9 521.8 L551.5 500.4"/>
<path class="t" d="M414.1 540.6 L419.9 537.4 L454 556.7"/>
<path class="t" d="M416.7 538.6 C416.2 539.3 414.4 541.1 413.9 542.5 C413.4 543.9 413.1 545 413.5 547 C413.9 549 415.6 553.4 416.1 554.7"/>
<path class="t" d="M416.1 554.7 L438.6 566.3"/>
<path class="t" d="M434.1 542.5 L441.2 538 L459.2 547.7 L459.8 551.5 L454.7 555"/>
<path class="t" d="M441.2 547.7 L443.7 549.1"/>
<path class="t" d="M431.5 560.5 L434.1 563.7 L436.3 563.1"/>
<path class="t" d="M413.5 579.2 L438.6 565"/>
<path class="t" d="M414.1 580.5 L439.2 566"/>
<path class="t" d="M453.4 553.7 L492.6 532.2"/>
<path class="t" d="M454.7 555.4 L493.6 533.5"/>
<path class="t" d="M405.1 582.4 L407.7 583.9"/>
<path class="t" d="M438.6 566.3 L438.6 588.2"/>
<path class="t" d="M438.6 588.2 C438.7 588.5 438.7 589.7 439.2 590.1 C439.8 590.5 440.2 590.7 441.8 590.7 C443.4 590.8 446.4 591 448.9 590.5 C451.3 589.9 454.2 589 456.6 587.5 C458.9 586.1 462 582.7 463 581.7"/>
<path class="t" d="M442.4 571.4 L442.4 590.1"/>
<ellipse class="t" cx="451.4" cy="578.5" rx="3.6" ry="2.8" transform="rotate(-10 451.4 578.5)"/>
<path class="t" d="M452.3 580.5 L452 580.5 L451.6 580.4 L451.3 580.4 L451 580.3 L450.7 580.2 L450.4 580 L450.2 579.8 L449.9 579.6 L449.8 579.4 L449.6 579.2 L449.5 578.9 L449.4 578.7 L449.4 578.4 L449.4 578.1 L449.5 577.9 L449.6 577.6 L449.7 577.3 L449.9 577.1 L450.1 576.8 L450.3 576.6 L450.6 576.4 L450.9 576.3 L451.2 576.1 L451.6 576"/>
<path class="t" d="M442.4 570.8 L461.7 580.5"/>
<path class="t" d="M463 581.7 L479.7 591.4"/>
<path class="t" d="M488.7 596.5 L492 598.2"/>
<path class="t" d="M501.6 603.6 L520 613.2"/>
<path class="t" d="M466.6 549.6 L466.6 561.8"/>
<path class="t" d="M474.3 545.7 L474.3 566.3"/>
<path class="t" d="M461.1 562.7 L466.2 561.4"/>
<path class="t" d="M474 566.6 L482.3 571.2 L490 571.4 L514.5 556.7"/>
<path class="t" d="M470.7 567.8 L502.9 584.3"/>
<path class="t" d="M470.1 569.1 L501.6 585.6"/>
<path class="t" d="M495.2 578.1 C496.5 577.5 499.9 575.2 502.9 574.3 C505.9 573.3 510.2 572.6 513.2 572.5 C516.2 572.4 519.6 573.5 520.9 573.8"/>
<path class="t" d="M496.7 579.8 C498 579.2 501.4 577.2 504.2 576.3 C506.9 575.5 510.4 574.7 513.2 574.7 C516 574.6 519.6 575.7 520.9 575.9"/>
<path class="t" d="M514.5 576.6 L511.9 588.2"/>
<path class="t" d="M509.3 590.2 L513.8 589.5"/>
<path class="t" d="M506.8 607.5 L503.5 620.1"/>
<ellipse class="t" cx="407.7" cy="552.8" rx="3.9" ry="2.6" transform="rotate(-25 407.7 552.8)"/>
<ellipse class="t" cx="419.9" cy="564.4" rx="3.6" ry="2.3" transform="rotate(-25 419.9 564.4)"/>
<ellipse class="t" cx="399" cy="558.6" rx="3.3" ry="2.2" transform="rotate(-25 399 558.6)"/>
<ellipse class="t" cx="474.6" cy="521.9" rx="2.8" ry="1.8" transform="rotate(0 474.6 521.9)"/>
<path class="t" d="M400 542.5 L405.1 545.1"/>
<path class="t" d="M424.4 533.5 L427.7 532.2"/>
<path class="t" d="M435.4 527.7 L448.9 520"/>
<path class="t" d="M448.9 520 L467.2 509.4"/>
<path class="t" d="M333.3 587.3 L366.1 567.9"/>
<path class="t" d="M374.7 562.6 L377.9 561.1"/>
<path class="t" d="M384.4 557.2 L414.4 540"/>
<path class="t" d="M333.3 587.3 C335.4 587.8 341.9 589.2 345.8 590.5 C349.6 591.7 351.8 592.6 356.5 594.8 C361.1 596.9 370.8 601.9 373.6 603.3"/>
<path class="t" d="M373.6 603.3 L399.4 587.3"/>
<path class="t" d="M373 601.6 L398.3 586.2"/>
<path class="t" d="M405.8 584 L408 582.3"/>
<path class="t" d="M461.6 561.5 L464.8 563.2"/>
<path class="t" d="M439.3 649.1 L462.9 639.4"/>
<path class="t" d="M470.4 636.2 L473 635.1"/>
<path class="t" d="M476.9 633.6 L501.5 623.9 L505.8 608.3"/>
<path class="t" d="M439.3 649.1 L506.9 729.5"/>
<path class="t" d="M456.5 671.6 L488.7 689.8 L488.7 694.1 L479 698.4"/>
<path class="t" d="M464 673.7 L501.5 659.8"/>
<path class="t" d="M467.2 677 L510.1 657.6"/>
<path class="t" d="M484.4 703.8 L518.7 685.5"/>
<path class="t" d="M528.4 680.2 L531.6 678.5"/>
<path class="t" d="M539.1 672.7 L573.4 653.3"/>
<path class="t" d="M584.2 647.6 L586.7 646.3"/>
<path class="t" d="M506.9 729.5 L543.4 708.1"/>
<path class="t" d="M552 702.7 L556.3 700.6"/>
<path class="t" d="M564.8 695.2 L602.4 674.8"/>
<path class="t" d="M611 668.4 L615.3 666.2 L620.2 670.5"/>
<ellipse class="t" cx="498.3" cy="642.6" rx="16.1" ry="8.2" transform="rotate(-5 498.3 642.6)"/>
<path class="t" d="M513.7 640.2 L513.7 641.2 L513.4 642.2 L512.8 643.2 L512 644.1 L510.9 645 L509.7 645.9 L508.2 646.7 L506.6 647.4 L504.8 647.9 L502.9 648.4 L501 648.8 L499 649 L497 649.1 L495 649.1 L493 649 L491.2 648.7 L489.5 648.3 L487.9 647.8 L486.5 647.2 L485.3 646.5 L484.4 645.7 L483.6 644.8 L483.2 643.9 L482.9 642.9"/>
<ellipse class="t" cx="473" cy="641.5" rx="2.6" ry="1.7" transform="rotate(0 473 641.5)"/>
<path class="t" d="M498.3 630.2 L501.1 629.1 L503.3 630.4 L500.5 631.5 L498.3 630.2"/>
<ellipse class="t" cx="548.8" cy="639.4" rx="3.9" ry="2.6" transform="rotate(0 548.8 639.4)"/>
<ellipse class="t" cx="557.8" cy="651.6" rx="3.4" ry="2.4" transform="rotate(0 557.8 651.6)"/>
<ellipse class="t" cx="498.3" cy="685.5" rx="3.2" ry="2.1" transform="rotate(0 498.3 685.5)"/>
<ellipse class="t" cx="609.5" cy="614.3" rx="3.6" ry="2.4" transform="rotate(0 609.5 614.3)"/>
<ellipse class="t" cx="558.8" cy="563.9" rx="3.2" ry="2.1" transform="rotate(0 558.8 563.9)"/>
<path class="t" d="M541.2 688.3 L548.3 685.5 L548.3 692.6 L541.2 695.6 L541.2 688.3"/>
<path class="t" d="M542.3 689.2 L547 691.3 L548.3 692.6"/>
<path class="t" d="M520.9 595.4 L548.8 610.4"/>
<path class="t" d="M548.8 610.4 C550.2 611.3 555.4 613.6 557.3 615.4 C559.3 617.2 559.8 618.9 560.6 621.2 C561.3 623.4 561.6 625.9 561.6 628.7 C561.7 631.4 560.9 636.2 560.8 637.7"/>
<path class="t" d="M522.1 593.9 L550 608.9"/>
<path class="t" d="M550 608.9 C551.5 609.7 557 611.7 559.1 613.6 C561.1 615.6 561.8 618 562.5 620.5 C563.2 623 563.3 625.7 563.3 628.7 C563.4 631.6 562.8 636.7 562.7 638.3"/>
<path class="t" d="M501.5 604 L554.1 633 L562.7 638.8 L568.1 637.7 L588.5 626.1 L588.5 623.3 L576.7 615.4 L562.7 619.7"/>
<ellipse class="t" cx="568.7" cy="625" rx="4.7" ry="3" transform="rotate(-10 568.7 625)"/>
<ellipse class="t" cx="568.7" cy="625" rx="2.4" ry="1.5" transform="rotate(-10 568.7 625)"/>
<path class="t" d="M494 577.6 C495.3 576.9 498.5 574.2 501.5 573.3 C504.6 572.4 508.7 572 512.3 572.4 C515.9 572.9 520.2 574.2 523 576.1 C525.8 578 528.3 581.1 529 583.6 C529.7 586.1 528.5 589.1 527.3 591.1 C526.1 593.1 522.8 594.7 521.9 595.4"/>
<path class="t" d="M514.4 577.2 L512.3 587.9"/>
<path class="t" d="M509.1 590 L514.4 590"/>
<path class="t" d="M533.7 584.7 C534.8 584.9 538.5 584.7 540.2 585.8 C541.9 586.8 543.3 587.7 544 591.1 C544.7 594.5 544.4 603.6 544.5 606.1"/>
<path class="t" d="M533.7 587.3 C534.4 587.5 536.8 588.1 538 589 C539.3 589.8 540.6 589.5 541.2 592.2 C541.9 594.9 541.6 602.9 541.7 605.1"/>
<path class="t" d="M527.3 596.5 L538 591.1"/>
<path class="t" d="M529.4 599.7 L539.1 594.3"/>
<path class="t" d="M535.9 620.7 L543.4 624.4 L544.5 635.1"/>
<path class="t" d="M537 622.2 L534.8 639.4"/>
<path class="t" d="M540.2 624.4 L538 638.3"/>
<path class="t" d="M568.1 560 L579.9 568.6 L572.4 613.6"/>
<path class="t" d="M579.9 568.6 L600.3 580.4"/>
<path class="t" d="M608.8 585.8 L611.4 587"/>
<path class="t" d="M617.4 590 L620.2 591.8"/>
<path class="t" d="M546.6 634 L519.8 649.1"/>
<path class="t" d="M654 439 L657.3 437.1"/>
<path class="t" d="M655.1 440.3 L658.3 438.4"/>
<path class="t" d="M580 444.4 L604.7 437.5"/>
<path class="t" d="M625.1 472.3 L630.4 474.6"/>
<path class="t" d="M624.2 473.8 L629.6 476.1"/>
<path class="t" d="M640.1 479.8 L679.8 503.4"/>
<path class="t" d="M639.2 481.3 L678.9 504.9"/>
<path class="t" d="M688.4 508.8 L693.7 511.3"/>
<path class="t" d="M687.5 510.3 L692.9 512.8"/>
<path class="t" d="M703.4 516.3 L740.9 537.7"/>
<path class="t" d="M702.5 517.8 L739.9 539.2"/>
<path class="t" d="M644.4 524.2 L649.7 520.6 L656.6 524.8 L650.8 528.5 L644.4 524.2"/>
<path class="t" d="M585.4 510.9 L626.1 534.5"/>
<path class="t" d="M584.5 512.4 L625.3 536"/>
<path class="t" d="M580 515.2 L592.9 522.7"/>
<path class="t" d="M601.5 528.1 L604.7 529.8"/>
<path class="t" d="M610 533.4 L633.6 549.5"/>
<path class="t" d="M633.6 539.9 L640.1 543.1"/>
<path class="t" d="M632.8 541.4 L639.2 544.6"/>
<path class="t" d="M776.4 440.1 C776 441.9 775.8 448 774.2 450.8 C772.6 453.7 770.8 454.7 766.7 457.3 C762.6 459.8 753.1 463 749.5 465.8 C746 468.7 745.8 471.6 745.2 474.4 C744.7 477.3 745.2 480.9 746.3 483 C747.4 485.2 750.1 485.9 751.7 487.3 C753.3 488.7 755.4 489.4 756 491.6 C756.5 493.7 756 496.6 754.9 500.2 C753.8 503.7 750.8 510.2 749.5 513 C748.3 515.9 747.7 516.6 747.4 517.3"/>
<path class="t" d="M777.9 440.5 C777.5 442.4 777.4 448.9 775.7 451.9 C774.1 454.9 772.1 456 768 458.5 C763.9 461.1 754.5 464.4 751 467.1 C747.5 469.8 747.5 472.3 747 474.8 C746.5 477.4 747 480.3 748 482.1 C749 484 751.4 484.5 753 486 C754.6 487.5 757.1 488.7 757.7 491.2 C758.3 493.6 757.7 496.9 756.6 500.6 C755.5 504.3 752.5 510.6 751.2 513.5 C750 516.3 749.5 517.1 749.1 517.8"/>
<path class="t" d="M773.1 462.6 L780.2 459.4"/>
<path class="t" d="M740.9 538.2 C741.7 538.8 744.7 540.3 745.7 541.5 C746.7 542.6 747 543.6 747 545.3 C746.9 547 745.5 550.7 745.2 551.8"/>
<path class="t" d="M745.2 551.8 L695.9 581.2 L691.6 576.2 L649.7 547.9"/>
<path class="t" d="M739.7 539.7 C740.4 540.2 743.1 541.7 743.9 542.7 C744.8 543.7 744.9 544.5 744.8 545.8 C744.7 547 743.7 549.7 743.5 550.5"/>
<path class="t" d="M743.5 550.5 L696.3 578.4"/>
<path class="t" d="M689.9 573.6 L651.2 550.5"/>
<ellipse class="t w" cx="720.6" cy="547.3" rx="8.6" ry="4.5"/>
<path class="t w" d="M727.1 542.4 L727.1 546.1 L723.8 549.2 L717.3 549.2 L714 546.1 L714 542.4"/>
<path class="t w" d="M727.1 542.4 L723.8 545.6 L717.3 545.6 L714 542.4 L717.3 539.2 L723.8 539.2Z"/>
<path class="t" d="M723.8 545.6 L723.8 549.2"/>
<path class="t" d="M717.3 545.6 L717.3 549.2"/>
<ellipse class="t w" cx="692" cy="564.4" rx="8.6" ry="4.5"/>
<path class="t w" d="M698.5 559.5 L698.5 563.2 L695.3 566.4 L688.8 566.4 L685.5 563.2 L685.5 559.5"/>
<path class="t w" d="M698.5 559.5 L695.3 562.7 L688.8 562.7 L685.5 559.5 L688.8 556.4 L695.3 556.4Z"/>
<path class="t" d="M695.3 562.7 L695.3 566.4"/>
<path class="t" d="M688.8 562.7 L688.8 566.4"/>
<path class="t" d="M738.8 595.1 L777.4 573.6 L780.2 566.1"/>
<path class="t" d="M727 601.5 L730.2 599.8"/>
<path class="t" d="M624 588.7 L619.7 590.4 L649.7 609.1 L685.2 589.1"/>
<ellipse class="t" cx="657.9" cy="586.5" rx="3.2" ry="2.1" transform="rotate(0 657.9 586.5)"/>
<path class="t" d="M631.5 584.4 L663.7 568.3"/>
<ellipse class="t" cx="609.6" cy="614.4" rx="3" ry="1.9" transform="rotate(0 609.6 614.4)"/>
<path class="t" d="M607.9 584.4 L611.1 586.1"/>
<path class="t" d="M656.2 613.3 L660.5 615.7"/>
<path class="t" d="M668 619.8 L699.1 638"/>
<path class="t" d="M707.7 642.3 L710.9 644"/>
<path class="t" d="M580 614.4 L612.2 596.2"/>
<path class="t" d="M580 627.3 L588.6 624.1 L580 619.1"/>
<path class="t" d="M637.9 614.4 L641.2 612.9"/>
<path class="t" d="M595 640.2 L629.4 620.9"/>
<path class="t" d="M582.1 647.7 L585.4 646.2"/>
<path class="t" d="M622.9 661.6 L659.4 641.2"/>
<path class="t" d="M680.9 627.3 L717.3 606.9 L721.6 608 L734.5 625.2 L734.5 665.9"/>
<path class="t" d="M734.5 665.9 C734.3 666.6 734.1 669 733.4 669.8 C732.7 670.6 731.2 670.6 730.2 670.6 C729.2 670.6 728.3 671.2 727.6 669.8 C727 668.4 726.6 663.3 726.4 662.1"/>
<path class="t" d="M726.4 662.1 C726 661.6 725 659.7 724.2 659.5 C723.4 659.2 722.8 659.8 721.6 660.6 C720.5 661.3 718.5 661.3 717.3 664.2 C716.2 667.1 715.2 675.5 714.8 677.7"/>
<path class="t" d="M714.8 677.7 C714.3 678.3 713 680.3 712 680.9 C710.9 681.6 709.6 681.6 708.3 681.4 C707.1 681.2 705.1 680.1 704.5 679.9"/>
<path class="t" d="M704.5 679.9 L672.3 633.7 L669.1 635.9"/>
<path class="t" d="M674.4 634.8 L706.6 679.9"/>
<path class="t" d="M717.3 646.6 L723.3 642.3 L723.3 648.8 L717.8 652 L717.3 646.6"/>
<path class="t" d="M721.6 649.8 L749.5 665.9"/>
<path class="t" d="M612.2 667 L615.4 665.9 L637.9 679.9"/>
<path class="t" d="M710.4 307.6 L743.6 325.8"/>
<path class="t" d="M699.7 325.8 L720 338.7"/>
<path class="t" d="M710.4 307.6 C709.1 308.3 704.8 309.8 702.9 311.8 C701 313.9 699.5 317.5 699 319.8 C698.5 322.1 699.5 324.8 699.7 325.8"/>
<path class="t" d="M797.3 289.3 L797.3 294.7 L804.8 311.8"/>
<path class="t" d="M797.3 289.3 L804.8 311.8"/>
<path class="t" d="M804.8 311.8 C807.1 315.6 813.2 327 818.8 334.4 C824.3 341.7 833.2 349.9 838.1 355.8 C842.9 361.7 845.4 361.9 847.7 369.8 C850.1 377.7 852.9 391.4 852 403 C851.1 414.7 844 433.4 842.4 439.5"/>
<path class="t" d="M732.9 370.9 L760.8 354.8"/>
<path class="t" d="M771.5 348.3 L773.7 347"/>
<path class="t" d="M782.3 341.9 L813.4 325.8"/>
<ellipse class="t" cx="784" cy="325.8" rx="2.6" ry="3.4" transform="rotate(10 784 325.8)"/>
<ellipse class="t" cx="759.7" cy="339.3" rx="2.8" ry="3.4" transform="rotate(10 759.7 339.3)"/>
<ellipse class="t" cx="723.9" cy="352" rx="3.9" ry="2.6" transform="rotate(0 723.9 352)"/>
<ellipse class="t" cx="707.2" cy="382.2" rx="3.9" ry="2.4" transform="rotate(0 707.2 382.2)"/>
<path class="t" d="M760.8 355.8 L751.2 360.1 L752.2 399.8 L769.4 409.5"/>
<path class="t" d="M758.7 405.2 L764 433.1 L771.5 429.9"/>
<path class="t" d="M770.5 364.4 L789.8 353.3 L795.2 356.3"/>
<path class="t" d="M770.5 364.4 L770.5 369.8 L782.3 376.2 L793 367.6"/>
<ellipse class="t" cx="788.7" cy="361.8" rx="3" ry="2.1" transform="rotate(0 788.7 361.8)"/>
<path class="t" d="M792.6 336.5 L792.6 367.6"/>
<path class="t" d="M796.2 334.4 L796.2 365.5"/>
<path class="t" d="M799.9 333.3 L799.9 363.3"/>
<path class="t" d="M787.6 340.8 L790.9 355.8"/>
<path class="t" d="M771.5 439.5 C771.2 434.5 769.2 417.7 769.4 409.5 C769.6 401.3 770.5 395.9 772.6 390.2 C774.8 384.4 778.2 379.4 782.3 375.2 C786.4 370.9 791.2 367.5 797.3 364.4 C803.4 361.4 812 358.3 818.8 356.9 C825.6 355.5 834.8 356 838.1 355.8"/>
<path class="t" d="M819.8 348.3 L827.3 343 L838.1 355.4"/>
<path class="t" d="M819.8 348.3 L820.9 351.5 L829.5 356.9"/>
<path class="t" d="M769.4 400 C769.6 402.1 769.6 408.9 770.5 412.9 C771.4 416.8 772.4 420.4 774.8 423.6 C777.1 426.8 779.9 429.5 784.4 432.2 C788.9 434.9 795.2 437.7 801.6 439.7 C808 441.7 816.6 443 823 444 C829.5 445 837.4 445.2 840.2 445.5"/>
<path class="t" d="M772.6 432.2 C773.9 434.3 777.1 441.7 780.1 445.1 C783.2 448.5 785.9 449.9 790.9 452.6 C795.9 455.3 804.1 458.5 810.2 461.2 C816.3 463.8 824.5 467.4 827.3 468.7"/>
<path class="t" d="M818.8 463.3 L827.3 468.7"/>
<path class="t" d="M784.4 455.8 L789.8 451.5"/>
<path class="t" d="M842.4 440.8 L827.3 473 L797.3 524.5 L779.1 569.5"/>
<path class="t" d="M773.7 463.3 L785.5 455.8"/>
<path class="t" d="M773.7 463.3 L772.6 490.1 L778 495.5 L783.3 497.6 L827.3 473"/>
<ellipse class="t" cx="781.8" cy="489.7" rx="3.2" ry="2.1" transform="rotate(0 781.8 489.7)"/>
<path class="t" d="M772.6 490.1 L771.5 505.2 L768.3 506.2"/>
<path class="t" d="M728.6 528.8 L760.8 510.5"/>
<path class="t" d="M779.1 499.8 L784.4 497"/>
<path class="t" d="M759.7 544.8 L795.2 525.5"/>
<path class="t" d="M747.9 551.3 L752.2 549.8"/>
<path class="t" d="M782.3 549.1 L787 546.4 L787.6 552.4 L782.7 554.9 L782.3 549.1"/>
<path class="t" d="M690 509.4 L693.2 511.6"/>
<path class="t" d="M690 511.2 L693.2 513.3"/>
<path class="t" d="M660.7 693.6 L673.6 701.1"/>
<path class="t w" d="M648 695.8 L638.4 691.1 L637.8 690.7 L637.3 690.1 L636.9 689.5 L636.6 688.8 L636.4 687.9 L636.2 687 L636.2 686 L636.3 685 L636.6 683.9 L636.9 682.9 L637.3 681.8 L637.8 680.8 L638.4 679.8 L639 678.9 L639.7 678 L640.5 677.2 L641.3 676.6 L642.1 676 L642.9 675.6 L643.7 675.3 L644.5 675.2 L645.3 675.2 L646 675.3 L646.6 675.5 L656.3 680.3"/>
<ellipse class="t w" cx="652.2" cy="688" rx="5.4" ry="8.8" transform="rotate(28 652.2 688)"/>
<path class="t w" d="M648.6 699.9 L646 698.6 L645.1 698 L644.4 697.3 L643.8 696.4 L643.4 695.3 L643 694.2 L642.9 692.9 L642.8 691.5 L643 690.1 L643.2 688.6 L643.7 687.1 L644.2 685.6 L644.9 684.2 L645.7 682.8 L646.6 681.5 L647.6 680.3 L648.7 679.3 L649.8 678.4 L651 677.6 L652.1 677 L653.3 676.6 L654.4 676.4 L655.5 676.4 L656.5 676.6 L657.5 677 L660 678.3"/>
<ellipse class="t w" cx="654.3" cy="689.1" rx="7.7" ry="12.2" transform="rotate(28 654.3 689.1)"/>
<ellipse class="t" cx="654.3" cy="689.1" rx="5.1" ry="7.9" transform="rotate(28 654.3 689.1)"/>
<path class="t w" d="M689.3 721.2 L677.5 715.6 L676.8 715.1 L676.1 714.5 L675.6 713.7 L675.1 712.8 L674.8 711.8 L674.6 710.8 L674.5 709.6 L674.6 708.4 L674.8 707.2 L675.1 706 L675.6 704.8 L676.1 703.7 L676.8 702.6 L677.5 701.5 L678.3 700.6 L679.2 699.7 L680.2 699 L681.2 698.4 L682.2 698 L683.1 697.7 L684.1 697.6 L685.1 697.6 L686 697.8 L686.8 698.2 L698.6 703.7"/>
<ellipse class="t w" cx="694" cy="712.5" rx="6.9" ry="9.9" transform="rotate(28 694 712.5)"/>
<ellipse class="t" cx="694" cy="712.5" rx="4.9" ry="7.3" transform="rotate(28 694 712.5)"/>
<ellipse class="t" cx="681.1" cy="713.5" rx="1.3" ry="1.7" transform="rotate(0 681.1 713.5)"/>
<path class="t" d="M690.7 707.5 L695 705.4 L696.7 708.2"/>
<path class="t" d="M700.4 702.2 L706.8 697.9"/>
<path class="t w" d="M707.6 691.5 L711.4 689.8 L711.7 689.6 L712.1 689.6 L712.5 689.7 L713 689.9 L713.5 690.1 L713.9 690.5 L714.4 690.9 L714.9 691.4 L715.3 692 L715.7 692.6 L716.1 693.3 L716.5 694 L716.8 694.7 L717 695.4 L717.2 696.1 L717.4 696.8 L717.5 697.5 L717.5 698.1 L717.5 698.7 L717.4 699.2 L717.2 699.7 L717 700.1 L716.7 700.4 L716.4 700.6 L712.7 702.3" style="stroke-width:0.95;stroke:#1a1a1a"/>
<ellipse class="t w" style="stroke-width:0.95;stroke:#1a1a1a" cx="710.2" cy="696.9" rx="2.9" ry="6" transform="rotate(155 710.2 696.9)"/>
<ellipse class="t" style="stroke-width:0.95;stroke:#1a1a1a" cx="710.2" cy="696.9" rx="1.6" ry="3.3" transform="rotate(155 710.2 696.9)"/>
<ellipse class="t" cx="710.2" cy="696.9" rx="0.9" ry="2.1" transform="rotate(155 710.2 696.9)"/>
<path class="t" d="M717.5 697.3 L713.7 699" style="stroke-width:0.95;stroke:#1a1a1a"/>
<path class="t" d="M714.6 691.1 L710.8 692.8" style="stroke-width:0.95;stroke:#1a1a1a"/>
<path class="t w" d="M672.7 722.9 L653.4 734 L653.2 734.1 L653 734.1 L652.8 734.1 L652.5 734.1 L652.3 734 L652.1 733.9 L651.8 733.7 L651.6 733.5 L651.4 733.3 L651.2 733 L651 732.7 L650.8 732.5 L650.7 732.1 L650.6 731.8 L650.5 731.5 L650.4 731.2 L650.4 730.9 L650.4 730.6 L650.4 730.4 L650.4 730.1 L650.5 729.9 L650.6 729.7 L650.8 729.6 L650.9 729.5 L670.2 718.3"/>
<ellipse class="t w" cx="671.4" cy="720.6" rx="1.5" ry="2.6" transform="rotate(-28 671.4 720.6)"/>
<path class="t w" d="M641.4 731.7 L645.1 728.5 L651.1 730 L652.6 735.8 L648.5 739.7 L642.7 736.9Z"/>
<path class="t" d="M645.1 728.5 L646.4 734.3 L642.7 736.9"/>
<path class="t" d="M646.4 734.3 L652.6 735.8"/>
<path class="t" d="M672.5 719.3 L681.1 714"/>
<path class="t w" d="M752 656.1 L743.4 692.5 L756.8 699.5 L767 698.4 L774.5 661.4 L767 663Z"/>
<path class="g" d="M752 655.9 L761.1 653.4 L774.5 660.9 L767 663.4Z"/>
<path class="t" d="M749.8 697.9 C749.6 698.8 748.5 701.7 748.8 703.2 C749 704.8 750.4 706.4 751.4 707 C752.5 707.6 754.1 707.7 755.2 706.7 C756.3 705.6 757.4 701.6 757.9 700.6"/>
<path class="t" d="M770.1 679.7 L787.2 688.2"/>
<path class="t w" d="M794 694.5 L786.1 690.2 L786 690.1 L785.9 690.1 L785.8 689.9 L785.8 689.8 L785.8 689.7 L785.7 689.5 L785.7 689.4 L785.8 689.2 L785.8 689 L785.9 688.8 L785.9 688.6 L786 688.5 L786.1 688.3 L786.2 688.1 L786.3 688 L786.5 687.9 L786.6 687.7 L786.7 687.7 L786.9 687.6 L787 687.5 L787.1 687.5 L787.3 687.5 L787.4 687.5 L787.5 687.5 L795.4 691.8"/>
<ellipse class="t w" cx="794.7" cy="693.2" rx="0.9" ry="1.5" transform="rotate(28 794.7 693.2)"/>
<ellipse class="k" cx="797.5" cy="694.9" rx="2.6" ry="2.8" transform="rotate(0 797.5 694.9)"/>
<ellipse class="t" cx="797.5" cy="694.9" rx="1.3" ry="1.5" transform="rotate(0 797.5 694.9)"/>
<path class="t w" d="M802.4 23.7 L807.3 20.8 L807.8 20.6 L808.4 20.6 L809 20.6 L809.6 20.8 L810.3 21.1 L811 21.5 L811.7 22.1 L812.4 22.7 L813 23.4 L813.7 24.2 L814.3 25.1 L814.9 26 L815.4 27 L815.8 27.9 L816.2 28.9 L816.5 29.8 L816.7 30.8 L816.8 31.6 L816.8 32.4 L816.7 33.2 L816.6 33.8 L816.3 34.4 L816 34.8 L815.6 35.1 L810.7 38" style="stroke-width:0.95;stroke:#1a1a1a"/>
<ellipse class="t w" style="stroke-width:0.95;stroke:#1a1a1a" cx="806.5" cy="30.8" rx="3.9" ry="8.2" transform="rotate(150 806.5 30.8)"/>
<ellipse class="t" style="stroke-width:0.95;stroke:#1a1a1a" cx="806.5" cy="30.8" rx="2.2" ry="4.5" transform="rotate(150 806.5 30.8)"/>
<ellipse class="t" cx="806.5" cy="30.8" rx="1.3" ry="3" transform="rotate(150 806.5 30.8)"/>
<path class="t" d="M816.6 30.5 L811.7 33.3" style="stroke-width:0.95;stroke:#1a1a1a"/>
<path class="t" d="M811.9 22.3 L807 25.1" style="stroke-width:0.95;stroke:#1a1a1a"/>
<path class="t" d="M793 38.6 L800.5 34.3"/>
<ellipse class="t w" style="stroke-width:0.95;stroke:#1a1a1a" cx="787.8" cy="42.1" rx="2.8" ry="8.0" transform="rotate(-30.9 787.8 42.1)"/>
<ellipse class="t w" style="stroke-width:0.95;stroke:#1a1a1a" cx="784.9" cy="43.8" rx="2.8" ry="8.0" transform="rotate(-30.9 784.9 43.8)"/>
<ellipse class="t w" style="stroke-width:0.95;stroke:#1a1a1a" cx="781.9" cy="45.6" rx="2.8" ry="8.0" transform="rotate(-30.9 781.9 45.6)"/>
<ellipse class="t w" style="stroke-width:0.95;stroke:#1a1a1a" cx="779.0" cy="47.3" rx="2.8" ry="8.0" transform="rotate(-30.9 779.0 47.3)"/>
<ellipse class="t w" style="stroke-width:0.95;stroke:#1a1a1a" cx="776.1" cy="49.1" rx="2.8" ry="8.0" transform="rotate(-30.9 776.1 49.1)"/>
<ellipse class="t w" style="stroke-width:0.95;stroke:#1a1a1a" cx="773.1" cy="50.8" rx="2.8" ry="8.0" transform="rotate(-30.9 773.1 50.8)"/>
<ellipse class="t w" style="stroke-width:0.95;stroke:#1a1a1a" cx="770.2" cy="52.6" rx="2.8" ry="8.0" transform="rotate(-30.9 770.2 52.6)"/>
<ellipse class="t w" style="stroke-width:0.95;stroke:#1a1a1a" cx="767.3" cy="54.3" rx="2.8" ry="8.0" transform="rotate(-30.9 767.3 54.3)"/>
<ellipse class="t w" style="stroke-width:0.95;stroke:#1a1a1a" cx="764.3" cy="56.1" rx="2.8" ry="8.0" transform="rotate(-30.9 764.3 56.1)"/>
<ellipse class="t w" style="stroke-width:0.95;stroke:#1a1a1a" cx="761.4" cy="57.8" rx="2.8" ry="8.0" transform="rotate(-30.9 761.4 57.8)"/>
<ellipse class="t w" style="stroke-width:0.95;stroke:#1a1a1a" cx="758.5" cy="59.6" rx="2.8" ry="8.0" transform="rotate(-30.9 758.5 59.6)"/>
<ellipse class="t w" style="stroke-width:0.95;stroke:#1a1a1a" cx="755.6" cy="61.3" rx="2.8" ry="8.0" transform="rotate(-30.9 755.6 61.3)"/>
<ellipse class="t w" style="stroke-width:0.95;stroke:#1a1a1a" cx="752.6" cy="63.1" rx="2.8" ry="8.0" transform="rotate(-30.9 752.6 63.1)"/>
<ellipse class="t" style="stroke-width:0.9" cx="752.6" cy="63.1" rx="1.8" ry="5.8" transform="rotate(-30.9 752.6 63.1)"/>
<ellipse class="t" cx="752.6" cy="63.1" rx="0.9" ry="3.2" transform="rotate(-30.9 752.6 63.1)"/>
<path class="l" d="M120 37.3 L80.7 168.3"/>
<path class="l" d="M296 40.7 L334 192.3"/>
<path class="l" d="M380 45 L364.3 241.7"/>
<path class="l" d="M443.7 43.3 L469.2 285.9"/>
<path class="l" d="M513.7 45 L555.3 163.3"/>
<path class="l" d="M814.4 40.8 L872.8 109.4"/>
<path class="l" d="M772.6 68.7 L823 133"/>
<path class="l" d="M634.8 216.5 L625.5 263.7"/>
<path class="l" d="M585.4 300.8 L605.6 304"/>
<path class="l" d="M503 334.8 L484.1 361.1"/>
<path class="l" d="M528.6 351.9 L518.3 378.3"/>
<path class="l" d="M553.3 365 L540.9 389.7"/>
<path class="l" d="M575.8 337.2 L591 354.7"/>
<path class="l" d="M220 456.7 L141.7 522.3"/>
<path class="l" d="M394.3 418 L190 571.3"/>
<path class="l" d="M327 518.8 L221.7 600.7"/>
<path class="l" d="M362.7 539.7 L252.7 628"/>
<path class="l" d="M492.7 520.7 L297.7 672"/>
<path class="l" d="M590.7 549 L883.7 623"/>
<path class="l" d="M883 664 L801 685.3"/>
<path class="l" d="M640.4 696.2 L580.3 748"/>
<path class="l" d="M657.5 734.3 L667.2 763.9"/>
<path class="l" d="M694.6 724.7 L705.7 760"/>
<path class="l" d="M716.5 704.3 L735.8 763.3"/>
<path class="l" d="M765.8 711.8 L777.6 762.2"/>
<g opacity="0.999"><text transform="scale(1.002 1)" x="119.4" y="28.6">1</text>
<text transform="scale(1.002 1)" x="288" y="33">5</text>
<text transform="scale(1.002 1)" x="379.9" y="32.6">4</text>
<text transform="scale(1.002 1)" x="437.1" y="33">6</text>
<text transform="scale(1.002 1)" x="502.5" y="32.6">9</text>
<text transform="scale(1.002 1)" x="874.9" y="126.9">10</text>
<text transform="scale(1.002 1)" x="823.5" y="149.4">12</text>
<text transform="scale(1.002 1)" x="630.1" y="208.2">25</text>
<text transform="scale(1.002 1)" x="562.6" y="305.4">35</text>
<text transform="scale(1.002 1)" x="505" y="329.3">18</text>
<text transform="scale(1.002 1)" x="560" y="330.5">15</text>
<text transform="scale(1.002 1)" x="532.8" y="344.5">7</text>
<text transform="scale(1.002 1)" x="556.8" y="359.3">8</text>
<text transform="scale(1.002 1)" x="118.5" y="540.3">27</text>
<text transform="scale(1.002 1)" x="169.1" y="586.6">22</text>
<text transform="scale(1.002 1)" x="198.3" y="614">26</text>
<text transform="scale(1.002 1)" x="232.2" y="643.3">24</text>
<text transform="scale(1.002 1)" x="276.6" y="687.6">16</text>
<text transform="scale(1.002 1)" x="890.2" y="629">18</text>
<text transform="scale(1.002 1)" x="890.3" y="666.6">21</text>
<text transform="scale(1.002 1)" x="560" y="765.6">24</text>
<text transform="scale(1.002 1)" x="662.8" y="782.8">22</text>
<text transform="scale(1.002 1)" x="699.3" y="782.8">23</text>
<text transform="scale(1.002 1)" x="734.5" y="782.8">18</text>
<text transform="scale(1.002 1)" x="771.2" y="782.8">19</text></g>
</g>
</svg>
</body></html>
